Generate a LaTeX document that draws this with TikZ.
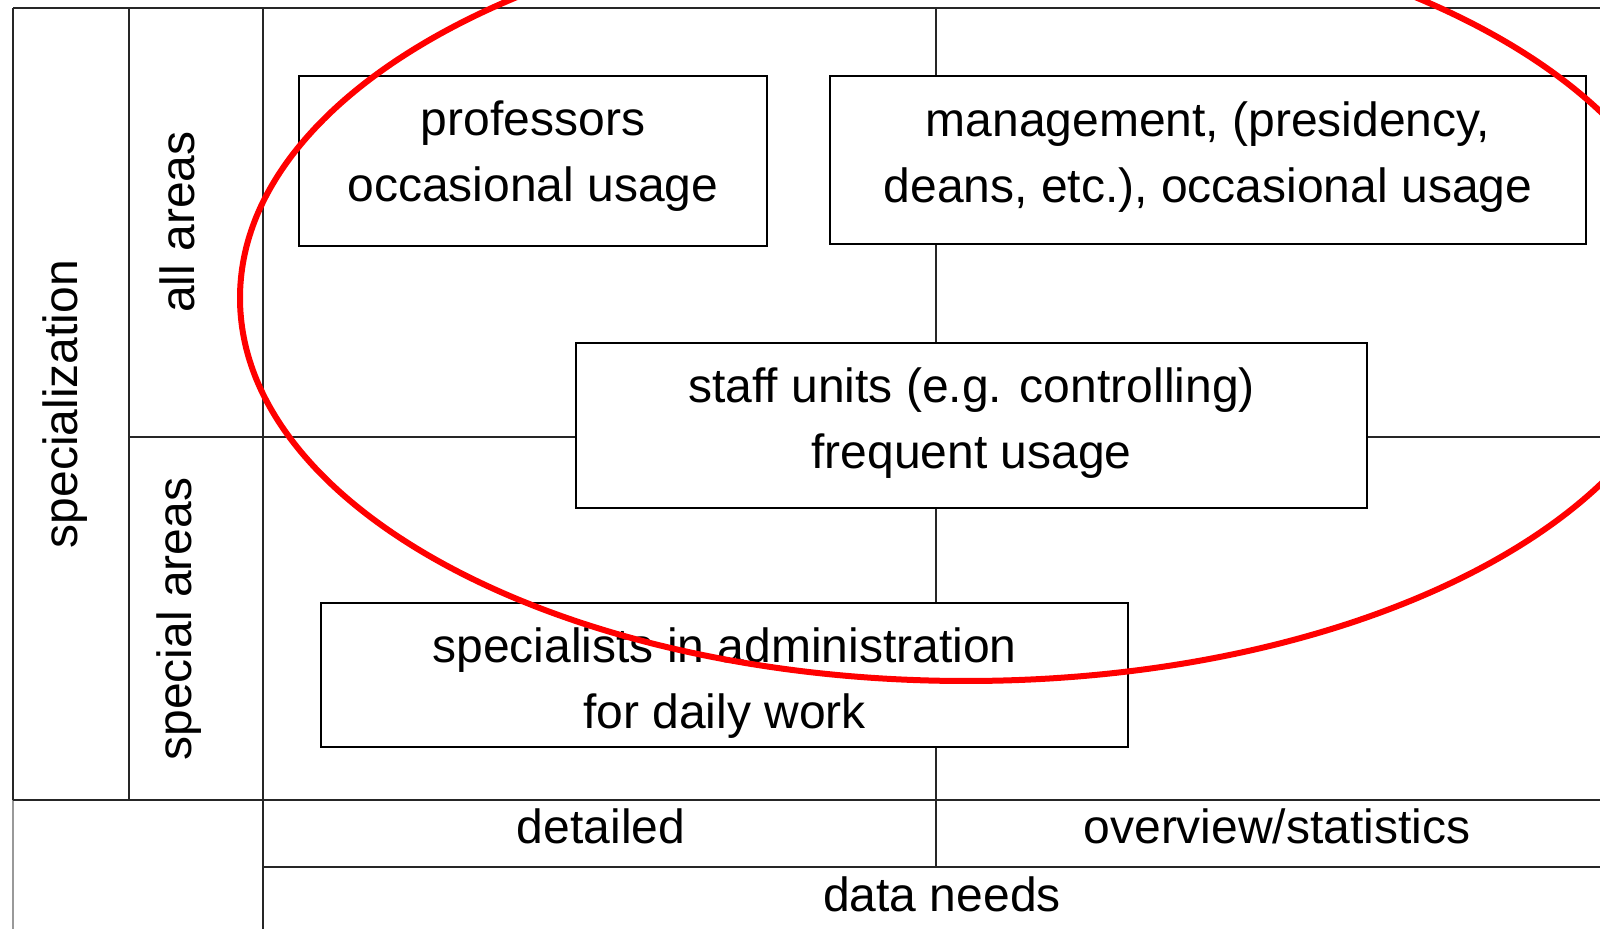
\documentclass[tikz,border=0pt]{standalone}
\usepackage{fontspec}
\setsansfont{Liberation Sans}
\usetikzlibrary{positioning}
\tikzset{%
  % Specifications for style of nodes:
            base/.style = {rectangle, draw=black, line width=1pt,
                           text centered, align=center,
                           font=\sffamily\fontsize{24}{33}\selectfont},
           group/.style = {base, fill=white, inner sep=0pt},
           label/.style = {font=\sffamily\fontsize{24}{33}\selectfont,
                           align=center, inner sep=0pt},
            grid/.style = {line width=1pt, black!85},
}
\begin{document}
\begin{tikzpicture}[x=0.5pt, y=-0.5pt]
\useasboundingbox (0,0) rectangle (1600,929);
\clip (0,0) rectangle (1600,929);
\fill[white] (0,0) rectangle (1600,929);

% grid of the matrix
\draw[grid] (13,8) -- (1600,8);
\draw[grid] (13,8) -- (13,800);
\draw[grid, black!40] (13,800) -- (13,929);
\draw[grid] (129,8) -- (129,800);
\draw[grid] (263,8) -- (263,929);
\draw[grid] (936,8) -- (936,867);
\draw[grid] (129,437) -- (1600,437);
\draw[grid] (13,800) -- (1600,800);
\draw[grid] (263,867) -- (1600,867);

% axis labels
\node (spec)    [label, rotate=90] at (65,404)   {specialization};
\node (all)     [label, rotate=90] at (177,222)  {all areas};
\node (special) [label, rotate=90] at (179,619)  {special areas};
\node (det)     [label] at (601,826)  {detailed};
\node (over)    [label] at (1277,826) {overview/statistics};
\node (needs)   [label] at (942,894)  {data needs};

% user groups
\node (prof)  [group, minimum width=234pt, minimum height=85pt]   at (533,161) {};
\node (mgmt)  [group, minimum width=378pt, minimum height=84pt]   at (1208,160) {};
\node (staff) [group, minimum width=395.5pt, minimum height=82.5pt] at (971.5,425.5) {};
\node (adm)   [group, minimum width=403.5pt, minimum height=72pt]  at (724.5,675) {};

\node (profText)  [label] at ([yshift=2.5pt]prof.center)  {professors\\occasional usage};
\node (mgmtText)  [label] at ([yshift=1.5pt]mgmt.center)
      {management, (presidency,\\deans, etc.), occasional usage};
\node (staffText) [label] at ([yshift=1pt]staff.center)
      {staff units (e.g. controlling)\\frequent usage};
\node (admText)   [label] at ([yshift=-4pt]adm.center)
      {specialists in administration\\for daily work};

% highlighted region
\draw[red, line width=3pt] (966,298) ellipse [x radius=363pt, y radius=191.5pt];
\end{tikzpicture}
\end{document}
